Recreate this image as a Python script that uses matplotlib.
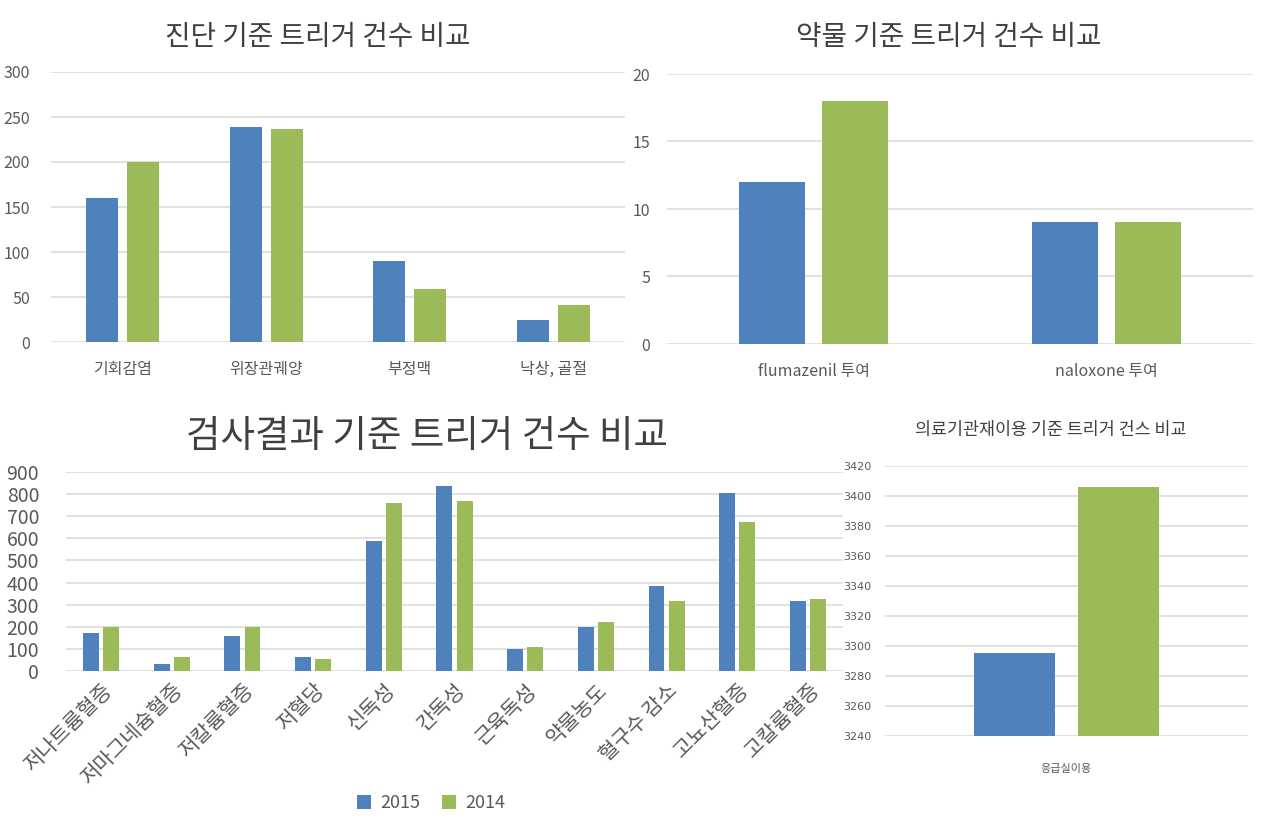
import matplotlib
matplotlib.use("Agg")
import matplotlib.pyplot as plt
import numpy as np

plt.rcParams['font.family'] = ['Noto Sans CJK KR', 'DejaVu Sans']

# ---------------- data ----------------
series_names = ['2015', '2014']

diag_title = '진단 기준 트리거 건수 비교'
diag_cats = ['기회감염', '위장관궤양', '부정맥', '낙상, 골절']
diag_2015 = [160, 239, 90, 25]
diag_2014 = [200, 237, 59, 41]
diag_ticks = [0, 50, 100, 150, 200, 250, 300]

drug_title = '약물 기준 트리거 건수 비교'
drug_cats = ['flumazenil 투여', 'naloxone 투여']
drug_2015 = [12, 9]
drug_2014 = [18, 9]
drug_ticks = [0, 5, 10, 15, 20]

lab_title = '검사결과 기준 트리거 건수 비교'
lab_cats = ['저나트륨혈증', '저마그네슘혈증', '저칼륨혈증', '저혈당', '신독성', '간독성',
            '근육독성', '약물농도', '혈구수 감소', '고뇨산혈증', '고칼륨혈증']
lab_2015 = [170, 32, 160, 65, 587, 836, 100, 201, 386, 804, 318]
lab_2014 = [201, 65, 197, 54, 758, 767, 109, 222, 318, 673, 327]
lab_ticks = [0, 100, 200, 300, 400, 500, 600, 700, 800, 900]

reuse_title = '의료기관재이용 기준 트리거 건스 비교'
reuse_cats = ['응급실이용']
reuse_2015 = [3295]
reuse_2014 = [3406]
reuse_ticks = [3240, 3260, 3280, 3300, 3320, 3340, 3360, 3380, 3400, 3420]

BLUE = '#4F81BD'
GREEN = '#9BBB59'
GRID = '#D9D9D9'
TXT = '#595959'
TITLE = '#404040'

W, H = 1279, 830
fig = plt.figure(figsize=(W / 100, H / 100), dpi=100)
fig.patch.set_facecolor('white')


def px_axes(x0, y0, x1, y1):
    return fig.add_axes([x0 / W, 1 - y1 / H, (x1 - x0) / W, (y1 - y0) / H])


def draw(ax, cats, v15, v14, ticks, tick_fs, cat_fs, pad, bw=0.225, off=0.143,
         tick_family=None):
    x = np.arange(len(cats))
    b1 = ax.bar(x - off, v15, bw, color=BLUE, zorder=3, label=series_names[0])
    b2 = ax.bar(x + off, v14, bw, color=GREEN, zorder=3, label=series_names[1])
    ax.set_xlim(-0.5, len(cats) - 0.5)
    ax.set_ylim(ticks[0], ticks[-1])
    ax.set_yticks(ticks)
    ax.yaxis.grid(True, color=GRID, linewidth=1.1, zorder=0)
    ax.set_axisbelow(True)
    for s in ax.spines.values():
        s.set_visible(False)
    ax.tick_params(axis='both', length=0, colors=TXT)
    ax.tick_params(axis='y', labelsize=tick_fs, pad=pad)
    if tick_family:
        for lab in ax.get_yticklabels():
            lab.set_family(tick_family)
    ax.set_xticks(x)
    ax.set_xticklabels(cats, fontsize=cat_fs, color=TXT)
    return b1, b2


# top-left
ax1 = px_axes(51, 72, 625, 342)
draw(ax1, diag_cats, diag_2015, diag_2014, diag_ticks, 11.5, 11.5, 15)
ax1.tick_params(axis='x', pad=14)
fig.text(318 / W, 1 - 37 / H, diag_title, ha='center', va='center', fontsize=20,
         color=TITLE, fontweight='light')

# top-right
ax2 = px_axes(667, 74, 1253, 344)
draw(ax2, drug_cats, drug_2015, drug_2014, drug_ticks, 11.5, 11.5, 12)
ax2.tick_params(axis='x', pad=14)
fig.text(949 / W, 1 - 37 / H, drug_title, ha='center', va='center', fontsize=20,
         color=TITLE, fontweight='light')

# bottom-left
ax3 = px_axes(65.6, 472, 843.4, 671)
b1, b2 = draw(ax3, lab_cats, lab_2015, lab_2014, lab_ticks, 14, 15, 19)
for lab in ax3.get_xticklabels():
    lab.set_rotation(45)
    lab.set_ha('right')
    lab.set_rotation_mode('anchor')
ax3.tick_params(axis='x', pad=6)
fig.text(427 / W, 1 - 436 / H, lab_title, ha='center', va='center', fontsize=27,
         color=TITLE, fontweight='light')

# bottom-right
ax4 = px_axes(885, 466, 1248, 736)
draw(ax4, reuse_cats, reuse_2015, reuse_2014, reuse_ticks, 8, 8, 10,
     tick_family=['Liberation Sans Narrow', 'DejaVu Sans'])
ax4.tick_params(axis='x', pad=20)
fig.text(1051 / W, 1 - 430 / H, reuse_title, ha='center', va='center', fontsize=12.5,
         color=TITLE)

# legend
leg = fig.legend(handles=[b1, b2], labels=series_names, loc='center',
                 bbox_to_anchor=(431 / W, 1 - 803 / H), ncol=2, frameon=False,
                 fontsize=13, handlelength=0.8, handleheight=0.8, handletextpad=0.5,
                 columnspacing=1.2)
for t in leg.get_texts():
    t.set_color(TXT)

fig.savefig('out.png', dpi=100, facecolor='white')
